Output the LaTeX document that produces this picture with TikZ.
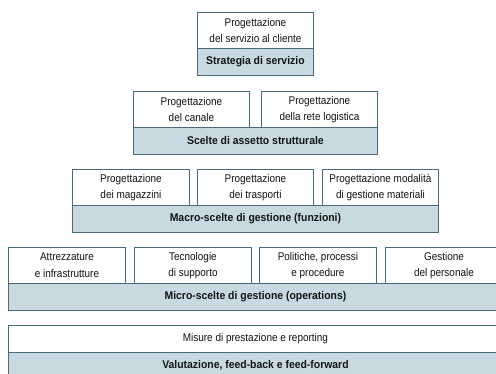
\documentclass[tikz,border=0pt]{standalone}
\usepackage{fontspec}
\setmainfont{Liberation Sans}[FakeStretch=0.89, BoldFeatures={FakeStretch=0.93}]
\definecolor{edge}{RGB}{72,108,122}
\definecolor{band}{RGB}{200,217,226}
\begin{document}
\begin{tikzpicture}[x=1pt,y=-1pt,
  every node/.style={font=\fontsize{11.2}{16.5}\selectfont, text=black!92},
  item/.style={draw=edge, fill=white, line width=0.9pt, anchor=north west,
    minimum width=117, minimum height=36, inner sep=0pt, align=center},
  bar/.style={draw=edge, fill=band, line width=0.9pt, anchor=north west,
    minimum height=27, inner sep=0pt, font=\fontsize{11.2}{13}\selectfont\bfseries},
]
\useasboundingbox (0,0) rectangle (496,374);
\clip (0,0) rectangle (496,374);

% Level 1: service strategy
\node[item, minimum width=116] (p1) at (197,12) {Progettazione\\del servizio al cliente};
\node[bar, minimum width=116] (b1) at (197,48) {Strategia di servizio};

% Level 2: structural choices
\node[item, minimum width=116] (p21) at (133,91) {Progettazione\\del canale};
\node[item, minimum width=116] (p22) at (261,91) {Progettazione\\della rete logistica};
\node[bar, minimum width=244] (b2) at (133,127) {Scelte di assetto strutturale};

% Level 3: macro management choices
\node[item] (p31) at (72,169) {Progettazione\\dei magazzini};
\node[item, minimum width=116] (p32) at (197,169) {Progettazione\\dei trasporti};
\node[item, minimum width=116] (p33) at (322,169) {Progettazione modalità\\di gestione materiali};
\node[bar, minimum width=366] (b3) at (72,205) {Macro-scelte di gestione (funzioni)};

% Level 4: micro management choices
\node[item] (p41) at (8,247) {Attrezzature\\e infrastrutture};
\node[item] (p42) at (134,247) {Tecnologie\\di supporto};
\node[item] (p43) at (259,247) {Politiche, processi\\e procedure};
\node[item] (p44) at (385,247) {Gestione\\del personale};
\node[bar, minimum width=494] (b4) at (8,283) {Micro-scelte di gestione (operations)};

% Level 5: evaluation
\node[item, minimum width=494, minimum height=27] (p5) at (8,325) {Misure di prestazione e reporting};
\node[bar, minimum width=494, minimum height=26] (b5) at (8,352) {Valutazione, feed-back e feed-forward};
\end{tikzpicture}
\end{document}
